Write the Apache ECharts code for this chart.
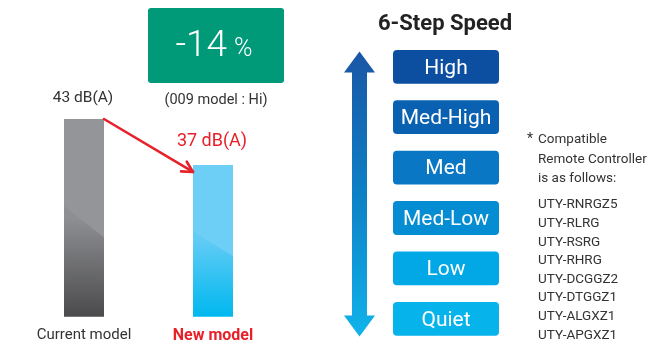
<!DOCTYPE html>
<html><head><meta charset="utf-8">
<script src="https://cdn.jsdelivr.net/npm/echarts@6/dist/echarts.min.js"></script>
<style>html,body{margin:0;padding:0;background:#fff}#c{width:650px;height:344px}</style>
</head><body><div id="c"></div>
<script>
// ---- data ----
const models = ['Current model', 'New model'];
const noiseDb = [43, 37];
const noiseUnit = 'dB(A)';
const noteModel = '(009 model : Hi)';
const speedTitle = '6-Step Speed';
const speedSteps = ['High', 'Med-High', 'Med', 'Med-Low', 'Low', 'Quiet'];
const noteLines = ['Compatible', 'Remote Controller', 'is as follows:'];
const remoteControllers = ['UTY-RNRGZ5', 'UTY-RLRG', 'UTY-RSRG', 'UTY-RHRG', 'UTY-DCGGZ2', 'UTY-DTGGZ1', 'UTY-ALGXZ1', 'UTY-APGXZ1'];

// ---- styles ----
const FONT = 'Roboto';
const RED = '#e8202a';
const TXT = '#333333';
const speedColors = ['#0c4fa1', '#0a60b1', '#0977c3', '#058dd4', '#02a7e6', '#06b3ea'];
const barPal = [
  { top: '#939598', mid: '#8e8f92', bot: '#4b4b4d' },
  { top: '#6dcff6', mid: '#60cbf5', bot: '#00b8ef' }
];
const Y_MIN = 17.2, Y_MAX = 43;
const reduction = Math.round((noiseDb[1] - noiseDb[0]) / noiseDb[0] * 100);

const chart = echarts.init(document.getElementById('c'), null, { renderer: 'canvas' });

function barItem(params, api) {
  const i = api.value(0), v = api.value(1);
  const top = api.coord([i, v]);
  const base = api.coord([i, Y_MIN]);
  const w = api.size([1, 0])[0] * 0.31;
  const x0 = top[0] - w / 2, h = base[1] - top[1];
  const pal = barPal[i];
  const yl = top[1] + h * 0.44, yr = top[1] + h * 0.6;
  return {
    type: 'group',
    children: [
      { type: 'rect', shape: { x: x0, y: top[1], width: w, height: h },
        style: { fill: new echarts.graphic.LinearGradient(0, 0, 0, 1, [
          { offset: 0, color: pal.mid }, { offset: 0.5, color: pal.mid }, { offset: 1, color: pal.bot }]) } },
      { type: 'polygon', shape: { points: [[x0, top[1]], [x0 + w, top[1]], [x0 + w, yr], [x0, yl]] },
        style: { fill: pal.top } },
      { type: 'text', style: { text: v + ' ' + noiseUnit, x: top[0] - 1, y: top[1] - (i ? 23 : 21),
        align: 'center', verticalAlign: 'middle', fontFamily: FONT,
        fontSize: i ? 18 : 15.5, fill: i ? RED : TXT } }
    ]
  };
}

function arrowItem(params, api) {
  const w = api.size([1, 0])[0] * 0.31;
  const a = api.coord([api.value(0), api.value(1)]);
  const b = api.coord([api.value(2), api.value(3)]);
  const p0 = [a[0] + w / 2, a[1]];
  const p1 = [b[0] - w / 2, b[1] + 7];
  const ang = Math.atan2(p1[1] - p0[1], p1[0] - p0[0]) + Math.PI;
  const L = 12, d = 28 * Math.PI / 180;
  const h1 = [p1[0] + L * Math.cos(ang - d), p1[1] + L * Math.sin(ang - d)];
  const h2 = [p1[0] + L * Math.cos(ang + d), p1[1] + L * Math.sin(ang + d)];
  const st = { stroke: RED, lineWidth: 2.6, fill: null, lineCap: 'round', lineJoin: 'round' };
  return { type: 'group', children: [
    { type: 'line', shape: { x1: p0[0], y1: p0[1], x2: p1[0], y2: p1[1] }, style: st },
    { type: 'polyline', shape: { points: [h1, p1, h2] }, style: st }
  ] };
}

function speedItem(params, api) {
  const idx = api.value(1);
  const c = api.coord([0, idx]);
  const c2 = api.coord([1, idx]);
  const bh = api.size([0, 1])[1] * 0.67;
  return {
    type: 'group',
    children: [
      { type: 'rect', shape: { x: c[0], y: c[1] - bh / 2, width: c2[0] - c[0], height: bh, r: 4 },
        style: { fill: speedColors[params.dataIndex] } },
      { type: 'text', style: { text: speedSteps[params.dataIndex], x: (c[0] + c2[0]) / 2, y: c[1] + 1.5,
        align: 'center', verticalAlign: 'middle', fontFamily: FONT, fontSize: 21, fill: '#fff' } }
    ]
  };
}

function bigArrowItem(params, api) {
  const first = api.coord([0, 0]);
  const last = api.coord([0, speedSteps.length - 1]);
  const bh = api.size([0, 1])[1] * 0.67;
  const cx = first[0] - 33.5;
  const t = first[1] - bh / 2 + 1.5, b = last[1] + bh / 2 + 0.7;
  const hh = 21, hw = 15.5, sw = 7.5;
  return {
    type: 'polygon',
    shape: { points: [[cx, t], [cx + hw, t + hh], [cx + sw, t + hh], [cx + sw, b - hh], [cx + hw, b - hh], [cx, b],
      [cx - hw, b - hh], [cx - sw, b - hh], [cx - sw, t + hh], [cx - hw, t + hh]] },
    style: { fill: new echarts.graphic.LinearGradient(0, 0, 0, 1, [
      { offset: 0, color: '#1a56a5' }, { offset: 0.5, color: '#0d80c6' }, { offset: 1, color: '#10b3ea' }]) }
  };
}

const noteTexts = [];
noteTexts.push({ type: 'text', x: 527, y: 139, style: { text: '*', fontFamily: FONT, fontSize: 14, fill: TXT, verticalAlign: 'middle' } });
noteLines.forEach((s, k) => noteTexts.push({ type: 'text', x: 538, y: 140 + k * 19.5,
  style: { text: s, fontFamily: FONT, fontSize: 13.5, fill: TXT, verticalAlign: 'middle' } }));
remoteControllers.forEach((s, k) => noteTexts.push({ type: 'text', x: 538, y: 205 + k * 18.6,
  style: { text: s, fontFamily: FONT, fontSize: 13.5, fill: TXT, verticalAlign: 'middle' } }));

chart.setOption({
  backgroundColor: '#fff',
  animation: false,
  grid: [
    { left: 19.5, width: 258, top: 119, bottom: 27.3 },
    { left: 393, width: 106, top: 41.6, height: 307.8 }
  ],
  xAxis: [
    { type: 'category', gridIndex: 0, data: models, axisLine: { show: false }, axisTick: { show: false },
      axisLabel: { margin: 11, fontFamily: FONT,
        formatter: (v, i) => i === 1 ? '{n|' + v + '}' : '{c|' + v + '}',
        rich: { c: { color: TXT, fontSize: 15, fontFamily: FONT }, n: { color: RED, fontSize: 16, fontWeight: 'bold', fontFamily: FONT } } } },
    { type: 'value', gridIndex: 1, min: 0, max: 1, show: false }
  ],
  yAxis: [
    { type: 'value', gridIndex: 0, min: Y_MIN, max: Y_MAX, show: false },
    { type: 'category', gridIndex: 1, data: speedSteps, inverse: true, show: false }
  ],
  series: [
    { type: 'custom', xAxisIndex: 0, yAxisIndex: 0, renderItem: barItem,
      data: noiseDb.map((v, i) => [i, v]), encode: { x: 0, y: 1 } },
    { type: 'custom', xAxisIndex: 0, yAxisIndex: 0, renderItem: arrowItem,
      data: [[0, noiseDb[0], 1, noiseDb[1]]], encode: { x: [0, 2], y: [1, 3] } },
    { type: 'custom', xAxisIndex: 1, yAxisIndex: 1, renderItem: bigArrowItem,
      data: [[0, 0]], encode: { x: 0, y: 1 }, z: 1 },
    { type: 'custom', xAxisIndex: 1, yAxisIndex: 1, renderItem: speedItem,
      data: speedSteps.map((s, i) => [0, i]), encode: { x: 0, y: 1 }, z: 2 }
  ],
  graphic: [
    { type: 'rect', x: 148, y: 8, shape: { width: 136, height: 75, r: 3 }, style: { fill: '#009a78' } },
    { type: 'text', x: 214, y: 47, style: {
      text: '{a|' + reduction + '}{b|%}', align: 'center', verticalAlign: 'middle', fill: '#fff',
      rich: { a: { fontSize: 37, fontWeight: 300, fontFamily: FONT, fill: '#fff' },
              b: { fontSize: 25, fontWeight: 300, fontFamily: FONT, fill: '#fff', padding: [6, 0, 0, 7] } } } },
    { type: 'text', x: 216, y: 100, style: { text: noteModel, align: 'center', verticalAlign: 'middle',
      fontFamily: FONT, fontSize: 14.5, fill: TXT } },
    { type: 'text', x: 445, y: 24, style: { text: speedTitle, align: 'center', verticalAlign: 'middle',
      fontFamily: FONT, fontSize: 22, fontWeight: 'bold', fill: '#222' } },
    ...noteTexts
  ]
});
</script>
</body></html>
